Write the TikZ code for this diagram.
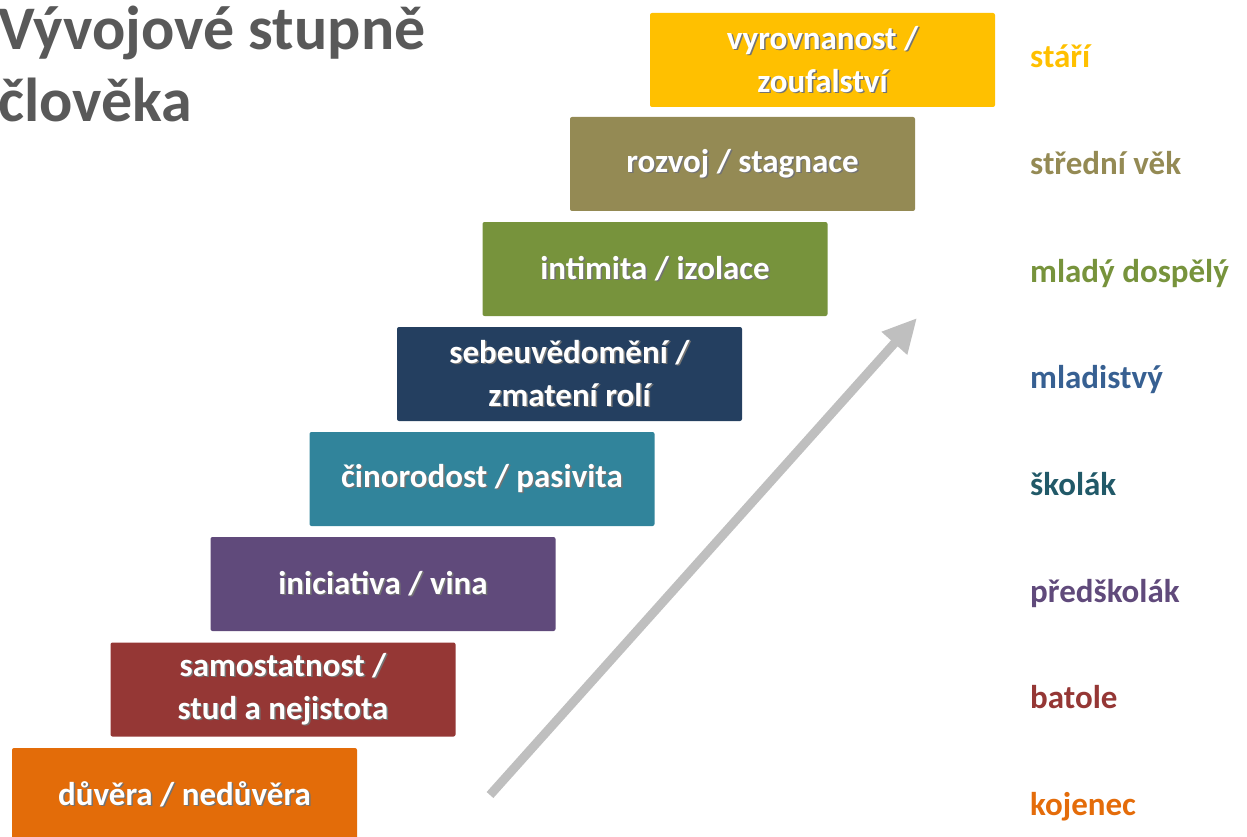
\documentclass[tikz,border=0pt]{standalone}
\usepackage{fontspec}
\setmainfont{Carlito}
\usetikzlibrary{arrows.meta}
\definecolor{cOrange}{HTML}{E36C09}
\definecolor{cRed}{HTML}{953735}
\definecolor{cPurple}{HTML}{604A7B}
\definecolor{cTeal}{HTML}{31849B}
\definecolor{cNavy}{HTML}{243F60}
\definecolor{cGreen}{HTML}{77933C}
\definecolor{cOlive}{HTML}{948A54}
\definecolor{cYellow}{HTML}{FFC000}
\definecolor{lBlue}{HTML}{376092}
\definecolor{lTeal}{HTML}{215968}
\definecolor{lOrange}{HTML}{E46C0A}
\definecolor{cTitle}{HTML}{595959}
\definecolor{cArrow}{HTML}{BFBFBF}
\newcommand\shtxt[1]{\leavevmode\rlap{\raisebox{-1.5pt}{\hspace{1.5pt}\textcolor{black!55}{#1}}}#1}
\begin{document}
\begin{tikzpicture}[x=1pt,y=-1pt,
  stage/.style={fill=#1, draw=none, rounded corners=2pt, minimum width=345pt, minimum height=94pt,
    inner sep=0pt, text=white, align=center, font=\fontsize{33}{43}\selectfont\bfseries},
  age/.style={text=#1, anchor=base west, inner sep=0pt, font=\fontsize{33}{40}\selectfont\bfseries},
  title/.style={text=cTitle, anchor=base west, inner sep=0pt, font=\fontsize{62}{73}\selectfont\bfseries}]
\useasboundingbox (0,0) rectangle (1247,837);
% title
\node[title] (t1) at (-2,50) {Vývojové stupně};
\node[title] (t2) at (-2,122) {člověka};
% arrow
\coordinate (aS) at (490,795);
\coordinate (aE) at (917,318);
\draw[cArrow, line width=9pt, -{Triangle[length=34pt,width=32pt]}] (aS) -- (aE);
% stages
\node[stage=cOrange] (s1) at (184.5,795) {\shtxt{důvěra / nedůvěra}};
\node[stage=cRed] (s2) at (283,689.5) {\shtxt{samostatnost /}\\\shtxt{stud a nejistota}};
\node[stage=cPurple] (s3) at (383,584) {\shtxt{iniciativa / vina}};
\node[stage=cTeal] (s4) at (482,479) {\shtxt{činorodost / pasivita}};
\node[stage=cNavy] (s5) at (569.5,374) {\shtxt{sebeuvědomění /}\\\shtxt{zmatení rolí}};
\node[stage=cGreen] (s6) at (655,269) {\shtxt{intimita / izolace}};
\node[stage=cOlive] (s7) at (742.5,164) {\shtxt{rozvoj / stagnace}};
\node[stage=cYellow] (s8) at (822.5,60) {\shtxt{vyrovnanost /}\\\shtxt{zoufalství}};
% ages
\node[age=cYellow] (g8) at (1030,68) {stáří};
\node[age=cOlive] (g7) at (1030,175) {střední věk};
\node[age=cGreen] (g6) at (1030,282) {mladý dospělý};
\node[age=lBlue] (g5) at (1030,388) {mladistvý};
\node[age=lTeal] (g4) at (1030,495) {školák};
\node[age=cPurple] (g3) at (1030,602) {předškolák};
\node[age=cRed] (g2) at (1030,708) {batole};
\node[age=lOrange] (g1) at (1030,815) {kojenec};
\end{tikzpicture}
\end{document}
